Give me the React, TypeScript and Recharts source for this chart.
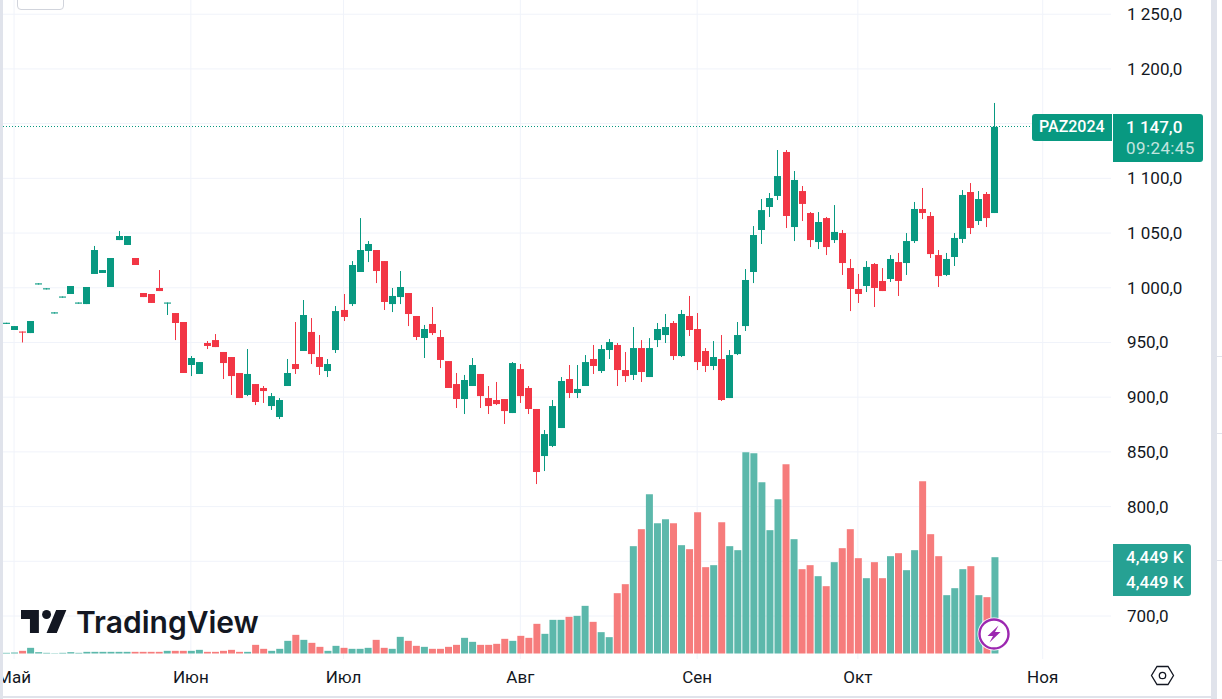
import { Bar, CartesianGrid, Cell, ComposedChart, ReferenceLine, XAxis, YAxis } from 'recharts';

const opens = [
  967, 961.4, 960, 958.6, 1003, 998.5, 976.5, 991, 994.3, 985.5,
  985.1, 1012.6, 1013.5, 1000.7, 1043.6, 1039.1, 1027.2, 995.2, 994.3, 999.8,
  985.5, 976.9, 968.7, 929.4, 921.2, 949.5, 952.2, 941.3, 936.7, 922.1,
  902, 912, 908.4, 891.9, 881.9, 910.2, 930.3, 942.2, 959.6, 936.7,
  923.9, 943.1, 979.7, 985.1, 1014.4, 1033.6, 1034.5, 1024.4, 985.1, 991.5,
  995.2, 974.2, 954.1, 966.9, 955, 933, 912, 898.3, 910.2, 921.2,
  899.2, 897.4, 898.3, 885.5, 925.7, 908.4, 889.2, 846.2, 855.4, 871.8,
  916.6, 903.8, 910.2, 934.9, 923.9, 943.1, 947.7, 924.8, 920.3, 944.9,
  918.4, 952.2, 956.8, 967.8, 937.6, 974.2, 962.3, 942.2, 928.5, 934.9,
  899.2, 939.4, 965, 1014.4, 1052.8, 1073.8, 1083.9, 1124.1, 1055.5, 1088.4,
  1068.3, 1041.8, 1063.7, 1043.6, 1050, 1018, 998.9, 1001.6, 1021.7, 1006.2,
  1008, 1023.5, 1022.6, 1042.7, 1072, 1065.6, 1029.9, 1011.7, 1028.1, 1044.6,
  1087.5, 1061, 1085.7, 1068.3,
];

const highs = [
  968, 965, 960, 969.6, 1004, 999.5, 977.5, 992, 1001.6, 986.5,
  1000.7, 1038.2, 1016.2, 1027.2, 1051.9, 1047.3, 1027.2, 995.2, 994.3, 1016.2,
  986.5, 976.9, 968.7, 937.6, 932.1, 951.3, 957.7, 941.3, 936.7, 922.1,
  944, 912, 910.2, 903.8, 899.2, 934.9, 968.7, 988.8, 972.3, 956.8,
  934.9, 983.3, 994.3, 1024.4, 1063.7, 1042.7, 1034.5, 1024.4, 999.8, 1015.3,
  995.2, 974.2, 966, 982.4, 961.4, 933, 922.1, 920.3, 935.8, 921.2,
  910.2, 913.9, 898.3, 932.1, 930.3, 910.2, 889.2, 870, 897.4, 918.4,
  929.4, 929.4, 938.5, 947.7, 947.7, 953.2, 949.5, 941.3, 964.1, 952.2,
  954, 967.8, 976, 969.6, 979.7, 992.5, 976.9, 944.9, 951.3, 956.8,
  943.1, 968.7, 1017.1, 1056.4, 1081.1, 1086.6, 1125.9, 1125.9, 1106.7, 1093,
  1069.2, 1069.2, 1064.7, 1075.6, 1052.8, 1026.3, 1012.6, 1024.4, 1022.6, 1018,
  1029.9, 1031.8, 1050, 1078.4, 1091.2, 1069.2, 1034.5, 1031.8, 1050, 1089.3,
  1095.7, 1088.4, 1087.5, 1168.9,
];

const lows = [
  967, 961.4, 950, 958.6, 1003, 998.5, 976.5, 991, 994.3, 985.5,
  985.1, 1012.6, 1013.5, 1000.7, 1043.6, 1039.1, 1020.8, 991.5, 986.1, 997,
  975.1, 952.2, 922.1, 919.3, 921.2, 944, 945.8, 916.6, 902, 899.2,
  901, 892.8, 894.7, 888.3, 880, 910.2, 921.2, 942.2, 930.3, 920.3,
  918.4, 940.4, 969.6, 983.3, 1014.4, 1023.5, 1004.3, 979.7, 977.8, 985.1,
  965, 952.2, 935.8, 956.8, 926.6, 908.4, 890.1, 884.6, 910.2, 890.1,
  884.6, 892.8, 875.5, 885.5, 894.7, 884.6, 820.6, 832.5, 854.4, 871.8,
  899.2, 899.2, 910.2, 921.2, 922.1, 934.9, 910.2, 913.9, 915.7, 913.9,
  918.4, 945.8, 949.5, 934, 936.7, 955.9, 924.8, 923, 924.8, 896.5,
  899.2, 938.5, 960.5, 1004.3, 1040, 1064.7, 1080.2, 1054.6, 1042.7, 1061,
  1037.2, 1035.4, 1029.9, 1040.9, 1011.7, 978.7, 986.1, 996.1, 982.4, 997,
  1005.3, 992.5, 1011.7, 1040.9, 1062.8, 1027.2, 1000.7, 1010.7, 1019.9, 1040.9,
  1049.1, 1057.4, 1055.5, 1068.3,
];

const closes = [
  968, 965, 959, 969.6, 1004, 999.5, 977.5, 992, 1001.6, 986.5,
  1000.7, 1034.5, 1016.2, 1027.2, 1047.3, 1047.3, 1020.8, 991.5, 986.1, 997,
  986.5, 967.8, 922.1, 935.8, 932.1, 946.8, 945.8, 931.2, 919.3, 899.2,
  921.2, 895.6, 905.6, 901, 897.4, 922.1, 925.7, 975.1, 939.4, 927.6,
  930.3, 978.7, 973.3, 1020.8, 1034.5, 1040, 1015.3, 987, 992.5, 1000.7,
  976, 955, 962.3, 958.6, 934, 908.4, 898.3, 915.7, 929.4, 901,
  891.9, 893.7, 887.3, 931.2, 901, 889.2, 831.6, 866.3, 891.9, 914.8,
  903.8, 907.5, 932.1, 928.5, 944, 950.4, 924.8, 919.3, 944.9, 923,
  944.9, 962.3, 964.1, 937.6, 976, 961.4, 932.1, 928.5, 936.7, 897.4,
  938.5, 956.8, 1007.1, 1048.2, 1071, 1082, 1102.1, 1065.6, 1098.5, 1076.6,
  1043.6, 1060.1, 1037.2, 1051, 1022.6, 998.9, 994.3, 1019, 999.8, 997,
  1026.3, 1006.2, 1042.7, 1072, 1068.3, 1030.8, 1010.7, 1026.3, 1045.5, 1084.8,
  1054.6, 1081.1, 1063.7, 1147,
];

// volume in thousands
const volumes = [
  31, 46, 123, 262, 62, 31, 15, 31, 62, 31,
  77, 77, 77, 77, 77, 77, 77, 77, 77, 77,
  123, 123, 123, 123, 169, 77, 77, 123, 169, 77,
  77, 400, 216, 123, 216, 585, 862, 631, 493, 308,
  123, 354, 262, 216, 216, 262, 631, 262, 216, 770,
  585, 354, 308, 216, 216, 308, 400, 724, 539, 400,
  400, 447, 678, 585, 816, 724, 1371, 909, 1555, 1555,
  1694, 1740, 2202, 1463, 986, 755, 2787, 3203, 4959, 5744,
  7361, 6021, 6206, 6021, 5005, 4820, 6530, 3989, 4081, 6068,
  4959, 4774, 9302, 9255, 7916, 5698, 7130, 8747, 5282, 3896,
  4081, 3573, 3111, 4220, 4866, 5744, 4404, 3480, 4220, 3480,
  4497, 4635, 3850, 4774, 7962, 5513, 4497, 2695, 3018, 3896,
  4035, 2695, 2603, 4449,
];

const priceTicks = [700, 750, 800, 850, 900, 950, 1000, 1050, 1100, 1150, 1200, 1250];
const hiddenPriceLabels = [750, 1150]; // sit under the volume and price badges
const monthSlots = [1, 23, 42, 64, 86, 106, 129];
const monthLabels = ['Май', 'Июн', 'Июл', 'Авг', 'Сен', 'Окт', 'Ноя'];

const SLOT_COUNT = 138; // empty slots on the right, up to the price scale
const UP = '#089981';
const DOWN = '#F23645';
const VOL_UP = '#5CB8AB';
const VOL_DOWN = '#F67C7C';
const FONT = 'Roboto, sans-serif';

const data = Array.from({ length: SLOT_COUNT }, (_, i) => ({
  slot: i,
  open: i < opens.length ? opens[i] : null,
  high: i < opens.length ? highs[i] : null,
  low: i < opens.length ? lows[i] : null,
  close: i < opens.length ? closes[i] : null,
  volume: i < opens.length ? volumes[i] : null,
}));

function Candle(props: any) {
  const { x, y, width, height, payload } = props;
  if (!payload || payload.open == null) return null;
  const { open, high, low, close } = payload;
  const color = close >= open ? UP : DOWN;
  const perUnit = high > low ? height / (high - low) : 0;
  const bodyTop = y + (high - Math.max(open, close)) * perUnit;
  const bodyHeight = Math.max(1, Math.abs(open - close) * perUnit);
  const left = Math.round(x);
  return (
    <g>
      <rect x={left + 3} y={y} width={1} height={Math.max(height, 1)} fill={color} />
      <rect x={left} y={bodyTop} width={7} height={bodyHeight} fill={color} />
    </g>
  );
}

function PriceTick(props: any) {
  const { y, payload } = props;
  if (hiddenPriceLabels.includes(payload.value)) return <g />;
  const whole = payload.value >= 1000
    ? `${Math.floor(payload.value / 1000)} ${String(payload.value % 1000).padStart(3, '0')}`
    : String(payload.value);
  return (
    <text x={1127} y={y + 6} fontSize={17} fontFamily={FONT} fill="#131722" textAnchor="start">
      {whole},0
    </text>
  );
}

const badgeText = {
  position: 'absolute',
  color: '#fff',
  fontFamily: FONT,
  fontSize: 17,
  lineHeight: '20px',
  whiteSpace: 'nowrap',
} as const;

export default function App() {
  return (
    <div style={{ position: 'absolute', left: 0, top: 0, width: 1222, height: 699, background: '#fff', overflow: 'hidden' }}>
      <ComposedChart
        width={1222}
        height={699}
        data={data}
        margin={{ top: 0, right: 0, bottom: 0, left: 2 }}
        barCategoryGap={0}
      >
        <CartesianGrid stroke="#F0F3FA" yAxisId="price" syncWithTicks />
        <XAxis
          dataKey="slot"
          type="category"
          ticks={monthSlots}
          interval={0}
          height={40}
          axisLine={false}
          tickLine={false}
          tickMargin={6}
          tick={{ fontSize: 17, fontFamily: FONT, fill: '#131722' }}
          tickFormatter={(v: number) => monthLabels[monthSlots.indexOf(v)]}
        />
        <XAxis dataKey="slot" xAxisId="vol" hide />
        <YAxis
          yAxisId="price"
          orientation="right"
          width={111}
          domain={[660.7, 1263]}
          ticks={priceTicks}
          interval={0}
          axisLine={false}
          tickLine={false}
          tick={PriceTick}
        />
        <YAxis yAxisId="vol" hide domain={[-254, 30192]} allowDataOverflow />
        <Bar dataKey="volume" xAxisId="vol" yAxisId="vol" barSize={7} isAnimationActive={false}>
          {data.map((d) => (
            <Cell key={d.slot} fill={(d.close ?? 0) >= (d.open ?? 0) ? VOL_UP : VOL_DOWN} />
          ))}
        </Bar>
        <ReferenceLine yAxisId="price" y={1147} stroke={UP} strokeDasharray="1 2" shapeRendering="crispEdges" />
        <Bar
          yAxisId="price"
          dataKey={(d: any) => (d.open == null ? null : [d.low, d.high])}
          barSize={7}
          shape={Candle}
          isAnimationActive={false}
        />
      </ComposedChart>

      {/* side strips of the terminal window */}
      <div style={{ position: 'absolute', left: 0, top: 0, width: 3, height: 699, background: '#E0E3EB' }} />
      <div style={{ position: 'absolute', left: 1211, top: 0, width: 6, height: 699, background: '#E0E3EB' }} />
      <div style={{ position: 'absolute', left: 1217, top: 356, width: 5, height: 1, background: '#E0E3EB' }} />
      <div style={{ position: 'absolute', left: 1217, top: 433, width: 5, height: 1, background: '#E0E3EB' }} />
      <div style={{ position: 'absolute', left: 1217, top: 560, width: 5, height: 1, background: '#E0E3EB' }} />
      <div style={{ position: 'absolute', left: 0, top: 696, width: 1211, height: 2, background: '#E0E3EB' }} />

      {/* cut-off button at the top */}
      <div style={{ position: 'absolute', left: 17, top: -20, width: 45, height: 28, border: '1px solid #D1D4DC', borderRadius: 4, background: '#fff' }} />

      {/* last price badges */}
      <div style={{ position: 'absolute', left: 1032, top: 114, width: 80, height: 27, background: UP, borderRadius: '3px 0 0 3px' }} />
      <div style={{ ...badgeText, left: 1039, top: 117, fontSize: 16, fontWeight: 500 }}>PAZ2024</div>
      <div style={{ position: 'absolute', left: 1113, top: 114, width: 90, height: 48, background: UP, borderRadius: '0 3px 3px 0' }} />
      <div style={{ ...badgeText, left: 1126, top: 117, fontWeight: 500 }}>1 147,0</div>
      <div style={{ ...badgeText, left: 1126, top: 138, opacity: 0.75, letterSpacing: 0.4 }}>09:24:45</div>

      {/* volume badge */}
      <div style={{ position: 'absolute', left: 1113, top: 544, width: 78, height: 52, background: '#26A193', borderRadius: '0 3px 3px 0' }} />
      <div style={{ ...badgeText, left: 1126, top: 547, fontWeight: 500 }}>4,449 K</div>
      <div style={{ ...badgeText, left: 1126, top: 572, fontWeight: 500 }}>4,449 K</div>

      {/* TradingView mark */}
      <svg style={{ position: 'absolute', left: 21, top: 601 }} width={46} height={36} viewBox="0 0 36 28">
        <path d="M14 25H7V14H0V7h14v18zM28 25h-8l7.5-18h8L28 25z" fill="#131722" />
        <circle cx="20" cy="10.5" r="3.5" fill="#131722" />
      </svg>
      <div style={{ position: 'absolute', left: 76, top: 603, fontFamily: 'Inter, sans-serif', fontWeight: 600, fontSize: 30, lineHeight: '38px', color: '#131722', whiteSpace: 'nowrap' }}>
        TradingView
      </div>

      {/* lightning badge */}
      <svg style={{ position: 'absolute', left: 976, top: 616 }} width={36} height={36} viewBox="0 0 36 36">
        <circle cx="18" cy="18" r="16.5" fill="#fff" />
        <circle cx="18" cy="18" r="14.5" fill="#fff" stroke="#9C27B0" strokeWidth="2.4" />
        <path d="M22.5 9.5 L11.5 20 L17 20 L13.5 26.5 L24.5 16 L19 16 Z" fill="#9C27B0" />
      </svg>

      {/* settings icon */}
      <svg style={{ position: 'absolute', left: 1150, top: 665 }} width={25} height={21} viewBox="0 0 25 21">
        <path d="M7 1.5 H18 L23.5 10.5 L18 19.5 H7 L1.5 10.5 Z" fill="none" stroke="#131722" strokeWidth="1.3" />
        <circle cx="12.5" cy="10.5" r="3.2" fill="none" stroke="#131722" strokeWidth="1.3" />
      </svg>
    </div>
  );
}
